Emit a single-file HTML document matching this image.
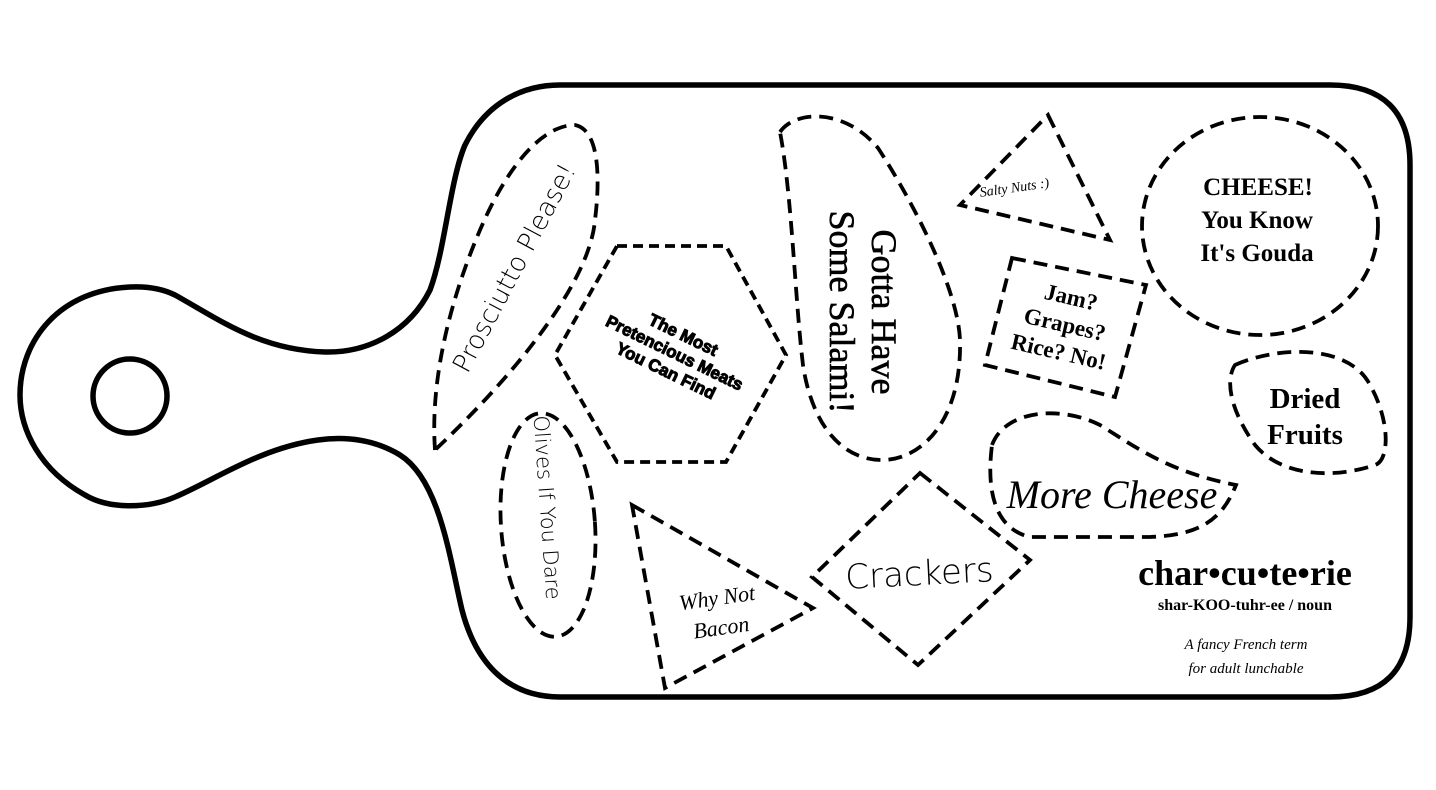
<!DOCTYPE html>
<html><head><meta charset="utf-8"><style>
html,body{margin:0;padding:0;background:#fff;}
svg{display:block;}
.d{fill:none;stroke:#000;stroke-width:3.8;stroke-dasharray:14 8;}
.h{fill:none;stroke:#000;stroke-width:3.8;stroke-dasharray:10 6;}
text{fill:#000;text-anchor:middle;}
.thin{font-family:"DejaVu Sans","Liberation Sans",sans-serif;font-weight:200;}
.ser{font-family:"Liberation Serif",serif;font-weight:bold;}
.scr{font-family:"Liberation Serif",serif;font-style:italic;}
.sans{font-family:"Liberation Sans",sans-serif;}
</style></head><body>
<svg width="1436" height="790" viewBox="0 0 1436 790" xmlns="http://www.w3.org/2000/svg">
<path d="M560,85 L1330,85 Q1410,85 1410,165 L1410,617 Q1410,697 1330,697 L560,697 C505,697 475,660 462,610 C450,560 440,480 400,455 C370,437 340,437 318,440 C260,448 215,480 175,497 C150,508 110,510 85,495 C40,470 20,430 20,395 C20,340 60,290 130,287 C150,286 165,290 175,295 C220,320 260,350 325,352 C370,353 410,330 430,290 C445,250 450,180 465,145 C485,105 520,85 560,85 Z" fill="none" stroke="#000" stroke-width="5.5"/>
<circle cx="130" cy="396" r="37" fill="none" stroke="#000" stroke-width="5.5"/>

<path class="d" d="M435,450 C430,380 450,300 480,230 C510,160 545,125 575,125 C600,130 600,180 595,220 C590,280 520,370 435,450 Z"/>
<text class="thin" font-size="26" transform="translate(522,272) rotate(-62)">Prosciutto Please!</text>

<ellipse class="d" cx="548" cy="525" rx="47" ry="112" transform="rotate(-4 548 525)"/>
<text class="thin" font-size="21" transform="translate(540,508) rotate(86)">Olives If You Dare</text>

<polygon class="h" points="617,246 726,246 786,355 726,462 617,462 555,355"/>
<g class="sans" font-weight="bold" font-size="17" stroke="#000" stroke-width="1" transform="translate(672,358) rotate(26)">
<text y="-20">The Most</text><text y="0">Pretencious Meats</text><text y="20">You Can Find</text></g>

<path class="d" d="M780,132 C795,110 845,108 878,148 C915,205 958,290 960,340 C962,420 922,460 882,460 C842,460 812,425 803,365 C795,300 792,195 780,132 Z"/>
<g font-family="Liberation Serif, serif" font-size="36" stroke="#000" stroke-width="0.6" transform="translate(862,312) rotate(90)">
<text y="-10">Gotta Have</text><text y="32">Some Salami!</text></g>

<polygon class="d" points="1048,115 1110,240 960,205"/>
<text class="scr" font-size="14" transform="translate(1015,192) rotate(-8)">Salty Nuts :)</text>

<polygon class="d" points="1012,258 1146,285 1115,397 985,365"/>
<g class="ser" font-size="23" transform="translate(1064,328) rotate(13)">
<text y="-24">Jam?</text><text y="4">Grapes?</text><text y="32">Rice? No!</text></g>

<ellipse class="d" cx="1260" cy="226" rx="118" ry="109"/>
<g class="ser" font-size="25"><text x="1258" y="195">CHEESE!</text><text x="1257" y="228">You Know</text><text x="1257" y="261">It's Gouda</text></g>

<path class="d" d="M1235,365 C1280,345 1350,345 1370,385 C1390,420 1390,460 1375,465 C1330,480 1280,475 1255,445 C1230,410 1225,380 1235,365 Z"/>
<g class="ser" font-size="29"><text x="1305" y="408">Dried</text><text x="1305" y="444">Fruits</text></g>

<path class="d" d="M992,445 C1005,410 1060,405 1100,425 C1140,450 1170,472 1236,485 C1222,520 1200,535 1150,537 L1030,537 C1000,530 985,500 992,445 Z"/>
<text class="scr" font-size="40" x="1112" y="508">More Cheese</text>

<polygon class="d" points="920,473 1030,560 918,665 812,577"/>
<text class="thin" font-size="34" transform="translate(920,585) rotate(-3)">Crackers</text>

<polygon class="d" points="632,505 813,608 665,688"/>
<g class="scr" font-size="22" transform="translate(718,605) rotate(-8)"><text y="0">Why Not</text><text y="30">Bacon</text></g>

<text class="ser" font-size="36" x="1245" y="585">char•cu•te•rie</text>
<text class="ser" font-size="16" x="1245" y="610">shar-KOO-tuhr-ee / noun</text>
<g class="scr" font-size="15"><text x="1246" y="649">A fancy French term</text><text x="1246" y="673">for adult lunchable</text></g>
</svg>
</body></html>
